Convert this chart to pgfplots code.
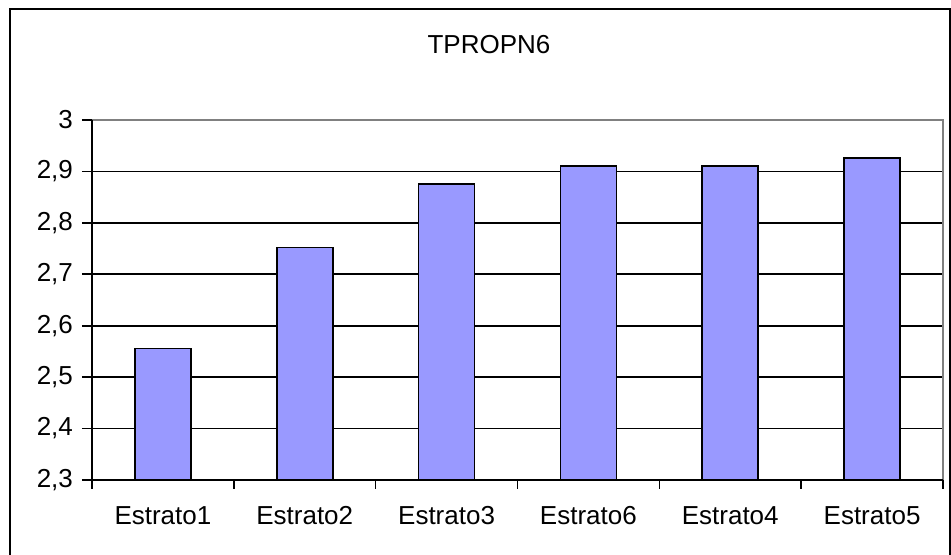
\documentclass[border=0pt]{standalone}
\usepackage{pgfplots}
\pgfplotsset{compat=1.18}
\usepackage{fontspec}
\setmainfont{Liberation Sans}
\definecolor{barblue}{HTML}{9999FF}
\definecolor{boxgray}{HTML}{808080}
\begin{document}
\begin{tikzpicture}
% picture is 475.5pt x 277.5pt; the axis box's lower-left corner sits at the origin
\useasboundingbox (-46pt,-37.5pt) rectangle (429.5pt,240pt);
% outer chart frame (bottom edge falls outside the picture)
\draw[black, line width=1pt] (-41pt,-40pt) -- (-41pt,235.5pt) -- (429pt,235.5pt) -- (429pt,-40pt);
\node[font=\fontsize{13}{15}\selectfont] at (198.5pt,217.5pt) {TPROPN6};
\begin{axis}[
    anchor=south west,
    scale only axis,
    width=425.5pt, height=180pt,
    xmin=-0.5, xmax=5.5,
    ymin=2.3, ymax=3,
    ytick={2.3,2.4,2.5,2.6,2.7,2.8,2.9,3},
    xtick={0,1,2,3,4,5},
    xticklabels={Estrato1,Estrato2,Estrato3,Estrato6,Estrato4,Estrato5},
    minor xtick={-0.5,0.5,1.5,2.5,3.5,4.5,5.5},
    tick pos=left,
    major x tick style={draw=none},
    minor x tick style={black, line width=0.8pt},
    minor tick length=4.5pt,
    y tick style={black, line width=0.8pt},
    major tick length=5pt,
    tick align=outside,
    ymajorgrids,
    grid style={black, line width=0.8pt},
    axis line style={draw=none},
    tick label style={font=\fontsize{13}{15}\selectfont},
    /pgf/number format/assume math mode=true,
    /pgf/number format/use comma,
    /pgf/number format/fixed,
    /pgf/number format/precision=1,
    yticklabel style={xshift=-1pt},
    xticklabel style={yshift=-4pt, text height=9.5pt, text depth=0pt},
    ybar, bar width=28pt,
]
\addplot[fill=barblue, draw=black, line width=0.8pt] coordinates {
    (0,2.556) (1,2.752) (2,2.875) (3,2.910) (4,2.910) (5,2.926)
};
\end{axis}
\draw[boxgray, line width=0.8pt] (0,180pt) -- (425.5pt,180pt) -- (425.5pt,0);
\draw[black, line width=0.8pt] (0,180pt) -- (0,0) -- (425.5pt,0);
\end{tikzpicture}
\end{document}
